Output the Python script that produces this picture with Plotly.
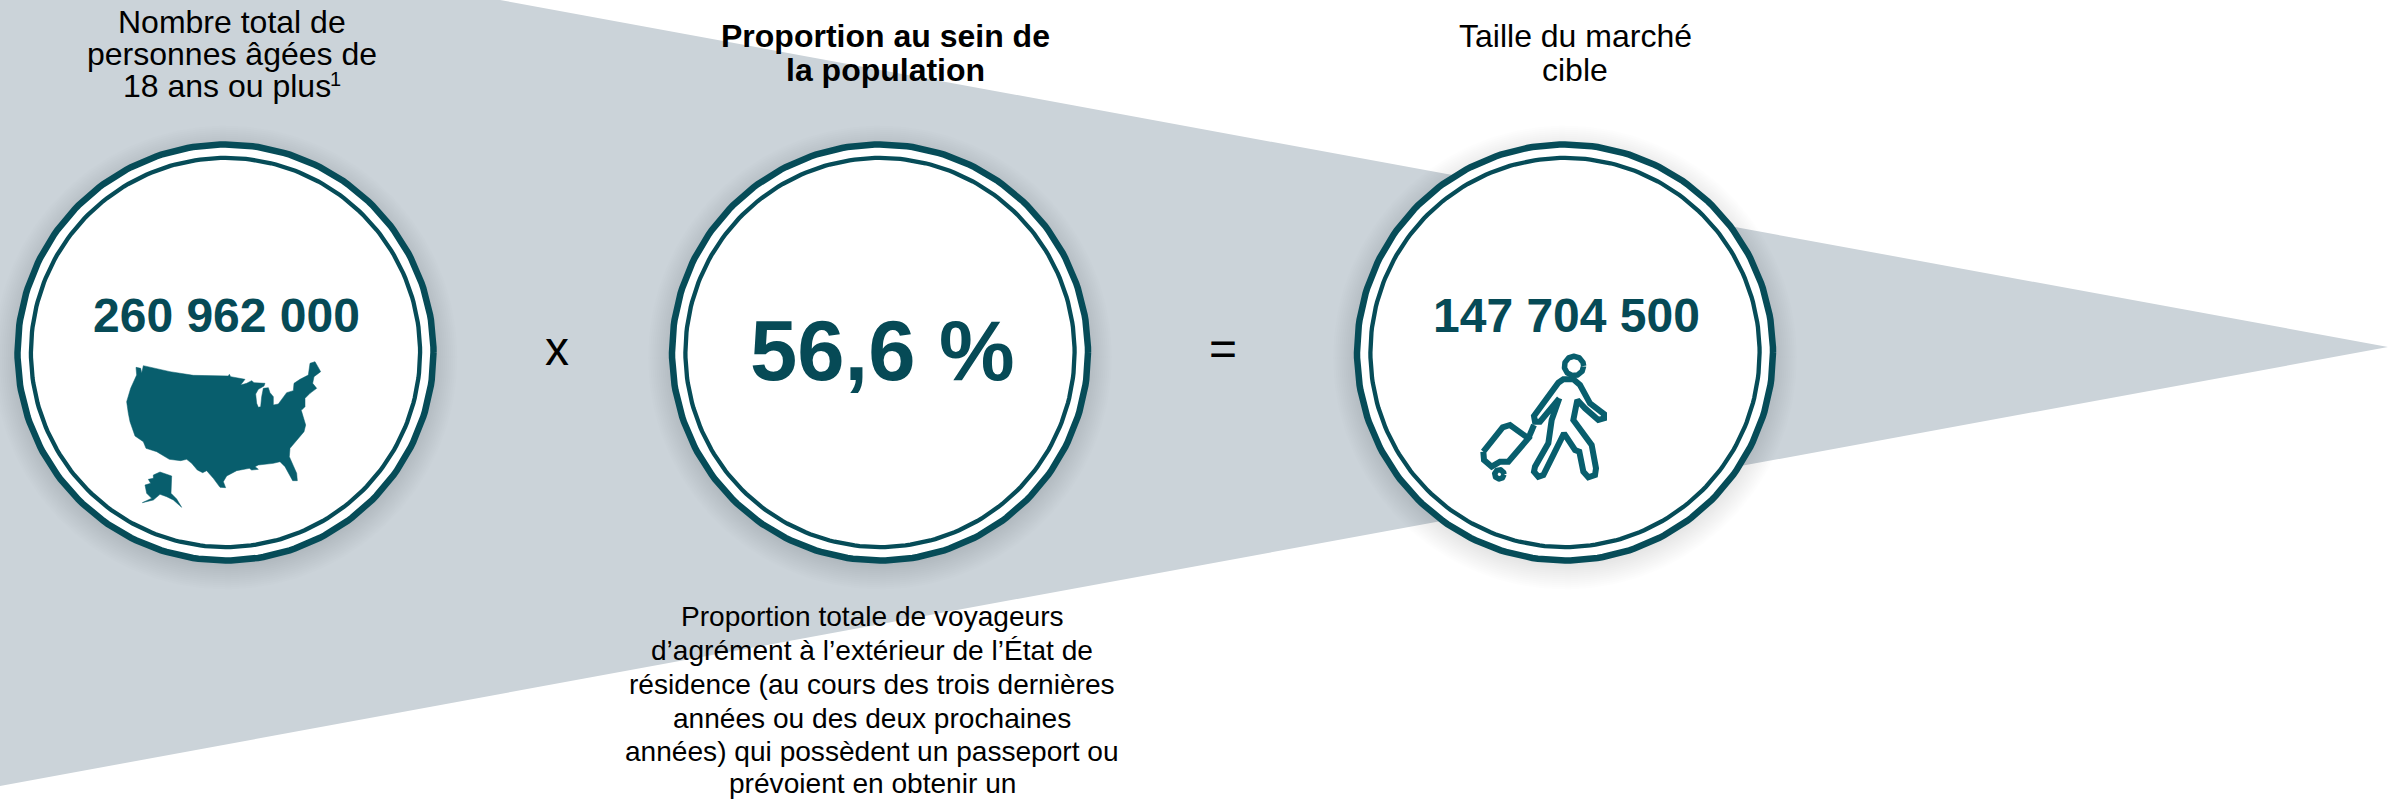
import numpy as np
import plotly.graph_objects as go

# ---- content ----
total_adults = "260 962 000"
proportion = "56,6 %"
market_size = "147 704 500"
header_1 = ["Nombre total de", "personnes âgées de", "18 ans ou plus"]
header_1_note = "1"
header_2 = ["Proportion au sein de", "la population"]
header_3 = ["Taille du marché", "cible"]
footnote = ["Proportion totale de voyageurs", "d’agrément à l’extérieur de l’État de",
            "résidence (au cours des trois dernières", "années ou des deux prochaines",
            "années) qui possèdent un passeport ou", "prévoient en obtenir un"]

# ---- colours ----
GREY = "#CBD3D9"; RING = "#064C58"; ICON = "#085E6D"; NUM = "#064A56"

# ---- outlines (full-size px) ----
funnel_x = [0, 500, 2388, 0]
funnel_y = [0, 0, 347, 786]
circle_cx = [225.5, 880, 1565]
circle_cy = [352.5, 352.5, 352.5]

# map outlines (in 3x crop coordinates of origin 110,350)
usa = [(100,47),(180,65),(250,76),(355,78),(358,73),(362,80),(405,88),(392,105),(410,100),(425,92),(432,98),
       (450,100),(465,100),(462,108),(445,118),(437,132),(440,160),(445,172),(452,170),(455,140),(460,115),
       (475,113),(480,128),(490,140),(490,165),(505,162),(530,128),(550,122),(552,100),(570,88),(595,75),
       (600,40),(615,35),(632,65),(612,80),(608,100),(620,115),(600,130),(585,145),(585,170),(575,180),
       (572,175),(580,205),(587,225),(582,245),(565,265),(540,295),(538,320),(560,370),(562,392),(548,392),
       (525,350),(510,335),(490,340),(445,345),(435,350),(445,358),(425,360),(418,355),(380,362),(350,378),
       (340,395),(347,413),(330,412),(310,385),(290,362),(278,368),(262,360),(245,340),(230,328),(212,332),
       (178,328),(140,305),(108,295),(100,275),(75,258),(60,215),(55,190),(50,155),(62,115),(80,75),(78,52),
       (92,55),(95,70),(100,47)]
alaska = [(150,366),(185,378),(183,430),(200,447),(215,472),(205,462),(190,450),(170,440),(150,433),(130,450),
          (97,458),(125,445),(110,430),(105,405),(122,400),(115,388),(130,385),(130,375),(150,366)]

# traveller outlines (in 3x crop coordinates of origin 1460,340)
body = [(298,175),(275,240),(265,310),(225,380),(222,395),(235,410),(250,405),(312,280),(345,330),(358,335),
        (370,395),(385,412),(405,405),(408,385),(395,315),(340,240),(352,180),(375,205),(415,240),(432,235),
        (432,222),(390,190),(360,135),(340,118),(310,118),(295,128),(222,228),(225,245),(240,245),(298,175)]
case = [(70,335),(128,262),(150,255),(205,295),(145,365),(120,365),(95,380),(72,360),(70,335)]
handle = [(205,295),(222,255)]
head = (342, 78, 29)
wheel = (118, 403, 14)

MAP_ORIGIN = (110, 350)
ICON_ORIGIN = (1460, 340)


def crop(points, origin):
    return [origin[0] + p[0] / 3 for p in points], [origin[1] + p[1] / 3 for p in points]


def ring(cx, cy, r):
    t = np.linspace(0, 2 * np.pi, 241)
    return cx + r * np.cos(t), cy + r * np.sin(t)


fig = go.Figure()
fig.add_trace(go.Scatter(x=funnel_x, y=funnel_y, fill="toself", fillcolor=GREY, mode="lines",
                         line=dict(width=0), hoverinfo="skip", showlegend=False))

for cx, cy in zip(circle_cx, circle_cy):
    # soft drop shadow
    for k in range(14):
        x, y = ring(cx, cy + 5, 232 - k * 2)
        fig.add_trace(go.Scatter(x=x, y=y, fill="toself", fillcolor="rgba(0,0,0,0.007)", mode="lines",
                                 line=dict(width=0), hoverinfo="skip", showlegend=False))
    x, y = ring(cx, cy, 208)
    fig.add_trace(go.Scatter(x=x, y=y, fill="toself", fillcolor="white", mode="lines",
                             line=dict(width=6.5, color=RING), hoverinfo="skip", showlegend=False))
    x, y = ring(cx, cy, 194.6)
    fig.add_trace(go.Scatter(x=x, y=y, mode="lines", line=dict(width=4.3, color=RING),
                             hoverinfo="skip", showlegend=False))

for poly in (usa, alaska):
    x, y = crop(poly, MAP_ORIGIN)
    fig.add_trace(go.Scatter(x=x, y=y, fill="toself", fillcolor=ICON, mode="lines",
                             line=dict(width=0.5, color=ICON), hoverinfo="skip", showlegend=False))

for poly in (body, case, handle):
    x, y = crop(poly, ICON_ORIGIN)
    fig.add_trace(go.Scatter(x=x, y=y, mode="lines", line=dict(width=6, color=ICON),
                             hoverinfo="skip", showlegend=False))
for c, w in ((head, 5.5), (wheel, 5.5)):
    x, y = ring(ICON_ORIGIN[0] + c[0] / 3, ICON_ORIGIN[1] + c[1] / 3, c[2] / 3)
    fig.add_trace(go.Scatter(x=x, y=y, mode="lines", line=dict(width=w, color=ICON),
                             hoverinfo="skip", showlegend=False))


def label(txt, x, y, size, color="#000000", bold=False):
    t = f"<b>{txt}</b>" if bold else txt
    fig.add_annotation(x=x, y=y, text=t, showarrow=False, xanchor="center", yanchor="middle",
                       font=dict(family="Liberation Sans", size=size, color=color))


for line, x, y in zip(header_1, [232, 232, 227], [22, 54, 86]):
    label(line, x, y, 32)
label(header_1_note, 335, 79, 20)
for line, y in zip(header_2, [36, 70]):
    label(line, 885, y, 32, bold=True)
for line, y in zip(header_3, [36, 70]):
    label(line, 1575, y, 32)
for line, y in zip(footnote, [616, 650, 684, 718, 751, 783]):
    label(line, 872, y, 28.1)

label(total_adults, 226, 315, 48, NUM, True)
label(proportion, 882, 350, 85, NUM, True)
label(market_size, 1566, 315, 48, NUM, True)
label("x", 557, 348, 48)
label("=", 1223, 348, 48)

fig.update_layout(width=2400, height=801, margin=dict(l=0, r=0, t=0, b=0),
                  paper_bgcolor="white", plot_bgcolor="white", showlegend=False,
                  xaxis=dict(range=[0, 2400], visible=False, fixedrange=True),
                  yaxis=dict(range=[801, 0], visible=False, fixedrange=True))
fig.write_html("out.html", config=dict(displayModeBar=False),
               post_script="document.body.style.margin='0';document.body.style.overflow='hidden';")
